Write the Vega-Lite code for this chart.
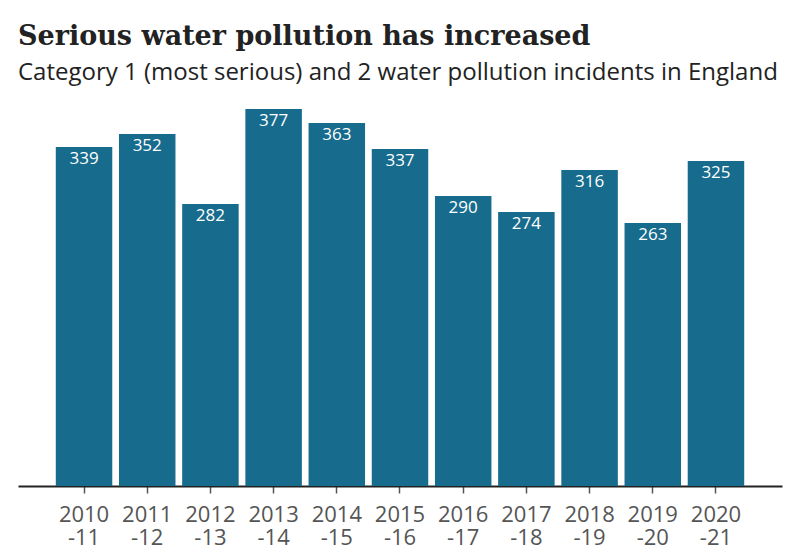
{
  "$schema": "https://vega.github.io/schema/vega-lite/v6.json",
  "width": 764,
  "height": 386,
  "autosize": {"type": "none"},
  "padding": {"left": 18, "top": 100, "right": 18, "bottom": 74},
  "background": "white",
  "title": {
    "text": "Serious water pollution has increased",
    "subtitle": "Category 1 (most serious) and 2 water pollution incidents in England",
    "anchor": "start",
    "frame": "group",
    "font": "DejaVu Serif",
    "fontSize": 27,
    "fontWeight": "bold",
    "color": "#222222",
    "subtitleFont": "Open Sans",
    "subtitleFontSize": 24,
    "subtitleColor": "#222222",
    "subtitlePadding": 10,
    "offset": 14
  },
  "data": {
    "values": [
      {"year": "2010-11", "incidents": 339},
      {"year": "2011-12", "incidents": 352},
      {"year": "2012-13", "incidents": 282},
      {"year": "2013-14", "incidents": 377},
      {"year": "2014-15", "incidents": 363},
      {"year": "2015-16", "incidents": 337},
      {"year": "2016-17", "incidents": 290},
      {"year": "2017-18", "incidents": 274},
      {"year": "2018-19", "incidents": 316},
      {"year": "2019-20", "incidents": 263},
      {"year": "2020-21", "incidents": 325}
    ]
  },
  "config": {"view": {"stroke": null}},
  "encoding": {
    "x": {
      "field": "year",
      "type": "nominal",
      "sort": null,
      "scale": {"paddingInner": 0.106, "paddingOuter": 0.598},
      "axis": {
        "title": null,
        "labelAngle": 0,
        "labelExpr": "[slice(datum.value, 0, 4), slice(datum.value, 4)]",
        "labelFont": "Open Sans",
        "labelFontSize": 22,
        "labelColor": "#555555",
        "labelLineHeight": 23.5,
        "labelPadding": 11,
        "domainColor": "#222222",
        "domainWidth": 2,
        "tickColor": "#555555",
        "tickSize": 7,
        "tickWidth": 1.5
      }
    },
    "y": {
      "field": "incidents",
      "type": "quantitative",
      "scale": {"domain": [0, 386]},
      "axis": null
    }
  },
  "layer": [
    {"mark": {"type": "bar", "color": "#176B8D"}},
    {
      "mark": {"type": "text", "color": "white", "baseline": "top", "dy": 4, "font": "Open Sans", "fontSize": 17},
      "encoding": {"text": {"field": "incidents", "type": "quantitative"}}
    }
  ]
}
